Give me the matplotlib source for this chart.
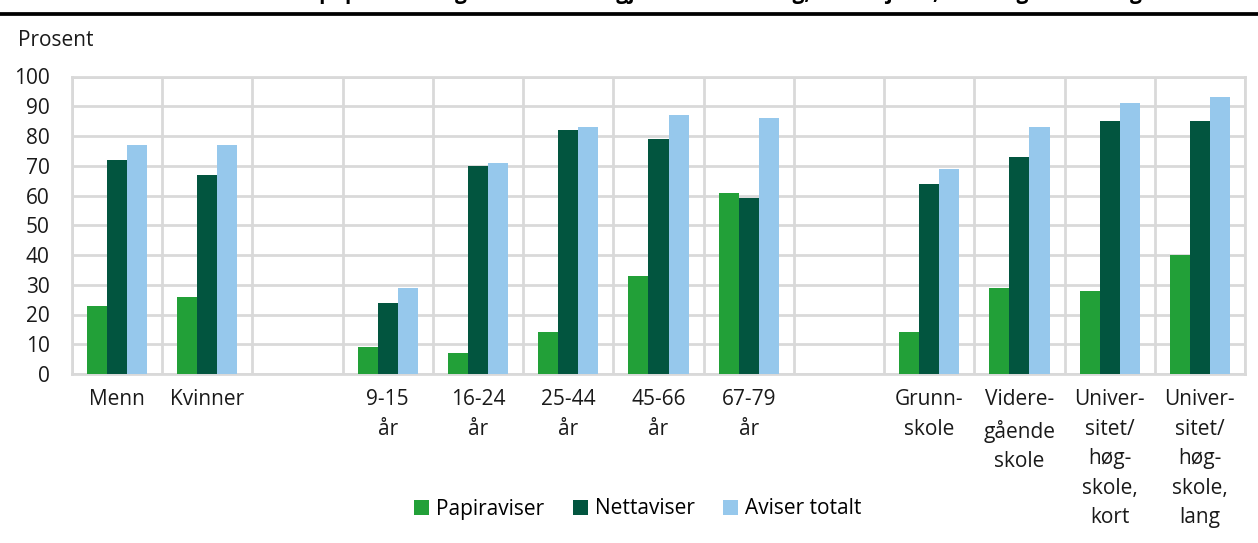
import matplotlib
matplotlib.use("Agg")
import matplotlib.pyplot as plt
import numpy as np

plt.rcParams['font.family'] = ['Open Sans', 'DejaVu Sans']

categories = ["Menn", "Kvinner", "", "9-15\når", "16-24\når", "25-44\når",
              "45-66\når", "67-79\når", "", "Grunn-\nskole", "Videre-\ngående\nskole",
              "Univer-\nsitet/\nhøg-\nskole,\nkort", "Univer-\nsitet/\nhøg-\nskole,\nlang"]
papiraviser = [23, 26, np.nan, 9, 7, 14, 33, 61, np.nan, 14, 29, 28, 40]
nettaviser = [72, 67, np.nan, 24, 70, 82, 79, 59, np.nan, 64, 73, 85, 85]
aviser_totalt = [77, 77, np.nan, 29, 71, 83, 87, 86, np.nan, 69, 83, 91, 93]
series_names = ["Papiraviser", "Nettaviser", "Aviser totalt"]
colors = ["#22A038", "#02553F", "#96C8EC"]
yticks = [0, 10, 20, 30, 40, 50, 60, 70, 80, 90, 100]
title = "Andel som har lest papiraviser og nettaviser en gjennomsnittsdag, etter kjønn, alder og utdanning"

FS = 15

fig = plt.figure(figsize=(12.58, 5.43), dpi=100)
ax = fig.add_axes([72/1258, 1-374/543, (1245-72)/1258, (374-76.5)/543])

n = len(categories)
x = np.arange(n)
w = 2/9
for k, (vals, name, c) in enumerate(zip([papiraviser, nettaviser, aviser_totalt], series_names, colors)):
    ax.bar(x + (k-1)*w, vals, width=w, color=c, label=name, zorder=3)

ax.set_xlim(-0.5, n-0.5)
ax.set_ylim(0, 100)
ax.set_yticks(yticks)
ax.set_xticks(x)
ax.set_xticklabels(categories, fontsize=FS, linespacing=1.53, va='top')
ax.set_xticks(np.arange(n+1)-0.5, minor=True)
ax.tick_params(axis='both', which='both', length=0, labelsize=FS, colors='#1a1a1a')
ax.tick_params(axis='y', pad=16)
ax.tick_params(axis='x', pad=11)
ax.grid(True, axis='y', which='major', color='#d9d9d9', linewidth=2, zorder=0)
ax.grid(True, axis='x', which='minor', color='#d9d9d9', linewidth=2, zorder=0)
ax.grid(False, axis='x', which='major')
for s in ax.spines.values():
    s.set_color('#d9d9d9')
    s.set_linewidth(2)

fig.text(18/1258, 1-40/543, "Prosent", fontsize=FS, va='center', ha='left', color='#1a1a1a')

leg = fig.legend(loc='center', bbox_to_anchor=(638/1258, 1-509/543), ncol=3, frameon=False,
                 fontsize=FS, handlelength=0.7, handleheight=0.7, handletextpad=0.35,
                 columnspacing=1.37)

# top rule and (cropped) title
fig.add_artist(plt.Line2D([0, 1], [1-13.5/543, 1-13.5/543], transform=fig.transFigure,
                          color='black', linewidth=2.7))
fig.text(1142/1258, 1+1.0/543, title, fontsize=FS, fontweight='bold', ha='right', va='baseline')

fig.savefig("out.png", dpi=100)
